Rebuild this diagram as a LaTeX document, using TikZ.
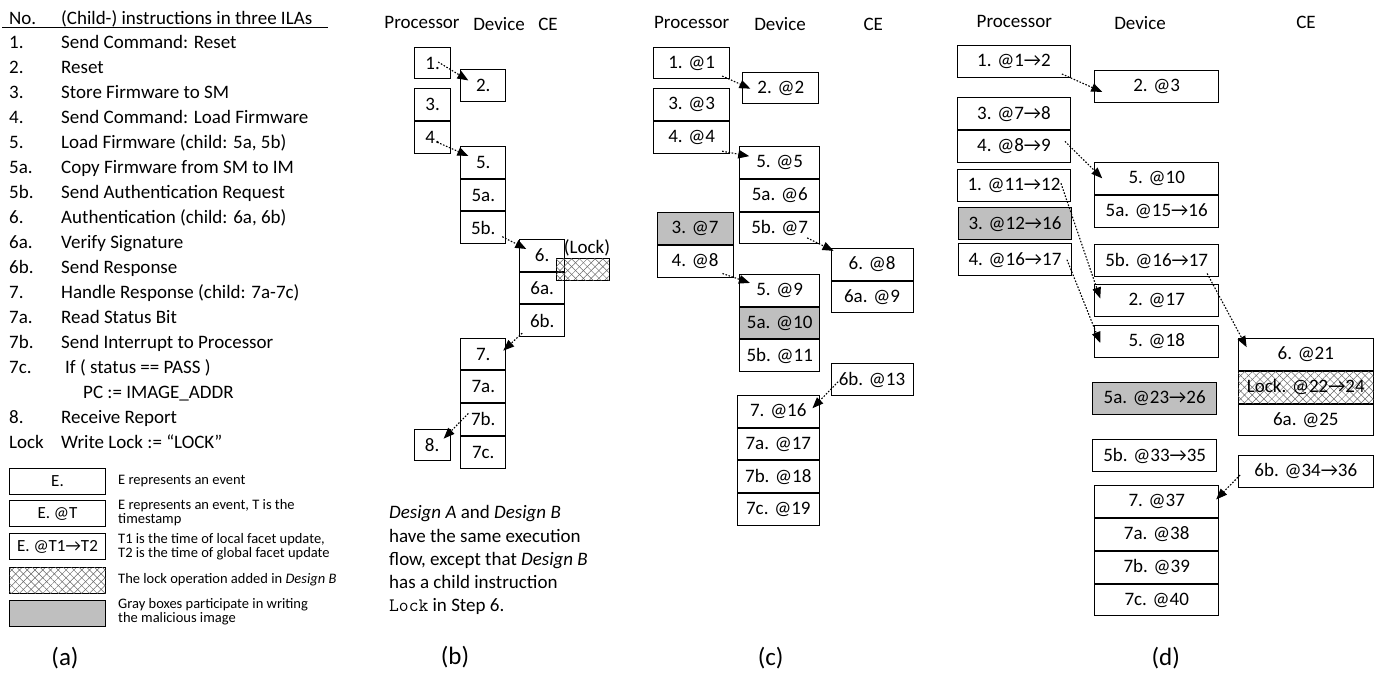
\documentclass[tikz,border=0pt]{standalone}
\usepackage{fontspec}
\setmainfont{Carlito}
\usetikzlibrary{positioning,calc,arrows.meta,patterns.meta}

\tikzset{
  evbox/.style={draw, line width=0.9pt, inner sep=0pt, minimum width=#1,
    minimum height=31.8pt, font=\fontsize{19}{23}\selectfont},
  graybox/.style={evbox=#1, fill=gray!50},
  lockbox/.style={evbox=#1,
    pattern={Lines[angle=45,distance=5.5pt,line width=0.5pt]}, pattern color=black!60,
    postaction={pattern={Lines[angle=-45,distance=5.5pt,line width=0.5pt]}, pattern color=black!60}},
  flow/.style={line width=1.1pt, dash pattern=on 1.6pt off 1.6pt, -{Triangle[length=11pt,width=8.5pt]}},
  lane/.style={anchor=base, font=\fontsize{19}{23}\selectfont},
  row/.style={anchor=base west, inner sep=0pt, font=\fontsize{19}{23}\selectfont},
  note/.style={anchor=west, align=left, inner sep=0pt, font=\fontsize{14.5}{14}\selectfont},
  tag/.style={font=\fontsize{25}{30}\selectfont},
}

\begin{document}
\begin{tikzpicture}[x=1pt, y=-1pt]
    \useasboundingbox (0,0) rectangle (1380,675);

    % (a) instruction table
    \node[row] (hno) at (9,24) {No.};
    \node[row] (hins) at (61,24) {(Child-) instructions in three ILAs};
    \draw[line width=0.9pt] (2,27) -- (328,27);
    \foreach \no/\txt [count=\i] in {1./Send Command: Reset, 2./Reset,
        3./Store Firmware to SM, 4./Send Command: Load Firmware,
        5./{Load Firmware (child: 5a, 5b)}, 5a./Copy Firmware from SM to IM,
        5b./Send Authentication Request, 6./{Authentication (child: 6a, 6b)},
        6a./Verify Signature, 6b./Send Response,
        7./Handle Response (child: 7a-7c), 7a./Read Status Bit,
        7b./Send Interrupt to Processor, 7c./{\hspace{4pt}If ( status == PASS )},
        {}/{\hspace{22pt}PC := IMAGE\_ADDR}, 8./Receive Report,
        Lock/Write Lock := “LOCK”} {
      \node[row] (no\i) at (9,{24+24.95*\i}) {\no};
      \node[row] (ins\i) at (61,{24+24.95*\i}) {\txt};
    }

    % (a) legend
    \node[evbox=96pt, minimum height=26pt, font=\fontsize{17}{20}\selectfont] (lg1) at (57.5,481) {E.};
    \node[evbox=96pt, minimum height=26pt, font=\fontsize{17}{20}\selectfont] (lg2) at (57.5,513.5) {E. @T};
    \node[evbox=96pt, minimum height=26pt, font=\fontsize{17}{20}\selectfont] (lg3) at (57.5,546.5) {E. @T1→T2};
    \node[lockbox=96pt, minimum height=26pt] (lg4) at (57.5,580) {};
    \node[graybox=96pt, minimum height=26pt] (lg5) at (57.5,613) {};
    \node[note] (lt1) at (118,481) {E represents an event};
    \node[note] (lt2) at (118,513) {E represents an event, T is the\\timestamp};
    \node[note] (lt3) at (118,546.5) {T1 is the time of local facet update,\\T2 is the time of global facet update};
    \node[note] (lt4) at (118,580) {The lock operation added in \textit{Design B}};
    \node[note] (lt5) at (118,612) {Gray boxes participate in writing\\the malicious image};

    % (b) Design A / Design B flow
    \node[lane] (bpro) at (422,28) {Processor};
    \node[lane] (bdev) at (499,30) {Device};
    \node[lane] (bce) at (548,30) {CE};
    \node[evbox=36pt] (b1) at (432.7,63) {1.};
    \node[evbox=45pt] (b2) at (483.3,85.8) {2.};
    \node[evbox=36pt] (b3) at (432.7,104.5) {3.};
    \node[evbox=36pt, below=0pt of b3] (b4) {4.};
    \node[evbox=45pt] (b5) at (483.3,162.3) {5.};
    \node[evbox=45pt, below=0pt of b5] (b5a) {5a.};
    \node[evbox=45pt, below=0pt of b5a] (b5b) {5b.};
    \node[evbox=45pt] (b6) at (542.2,255.3) {6.};
    \node[evbox=45pt, below=0pt of b6] (b6a) {6a.};
    \node[evbox=45pt, below=0pt of b6a] (b6b) {6b.};
    \node[lockbox=53pt, minimum height=21.5pt] (blk) at (582.5,269.5) {};
    \node[lane, anchor=center] (blktxt) at (587,248) {(Lock)};
    \node[evbox=45pt] (b7) at (483.3,354) {7.};
    \node[evbox=45pt, below=0pt of b7] (b7a) {7a.};
    \node[evbox=45pt, below=0pt of b7a] (b7b) {7b.};
    \node[evbox=45pt, below=0pt of b7b] (b7c) {7c.};
    \node[evbox=36pt] (b8) at (432.2,445) {8.};

    \draw[flow] ($(b1.east)+(-13,-1)$) -- ($(b2.north west)+(8,11)$);
    \draw[flow] ($(b4.east)+(-14,5)$) -- ($(b5.north west)+(8,10)$);
    \draw[flow] ($(b5b.east)+(-4,9)$) -- ($(b6.north west)+(7,10)$);
    \draw[flow] ($(b6b.south west)+(3,-4)$) -- ($(b7.north east)+(-3,13)$);
    \draw[flow] ($(b7b.west)+(8,-6)$) -- ($(b8.north east)+(-7,10)$);

    \node[anchor=north west, align=left, inner sep=0pt, font=\fontsize{19}{23.2}\selectfont] (bnote) at (389,505.5)
      {\textit{Design A} and \textit{Design B}\\have the same execution\\flow, except that \textit{Design B}\\has a child instruction\\\texttt{Lock} in Step 6.};

    % (c) timestamps
    \node[lane] (cpro) at (691.7,28) {Processor};
    \node[lane] (cdev) at (780,30) {Device};
    \node[lane] (cce) at (873.3,30) {CE};
    \node[evbox=76pt] (c1) at (691.7,63) {1. @1};
    \node[evbox=76pt] (c2) at (780.8,88) {2. @2};
    \node[evbox=76pt] (c3) at (691.7,104.5) {3. @3};
    \node[evbox=76pt, below=0pt of c3] (c4) {4. @4};
    \node[evbox=80pt] (c5) at (779.7,162.5) {5. @5};
    \node[evbox=80pt, below=0pt of c5] (c5a) {5a. @6};
    \node[evbox=80pt, below=0pt of c5a] (c5b) {5b. @7};
    \node[graybox=76pt] (c3x) at (695,228.8) {3. @7};
    \node[evbox=76pt, below=0pt of c3x] (c4x) {4. @8};
    \node[evbox=82pt] (c6) at (872,264.2) {6. @8};
    \node[evbox=82pt, below=0pt of c6] (c6a) {6a. @9};
    \node[evbox=80pt] (c5x) at (779.7,290.3) {5. @9};
    \node[graybox=80pt, below=0pt of c5x] (c5ax) {5a. @10};
    \node[evbox=80pt, below=0pt of c5ax] (c5bx) {5b. @11};
    \node[evbox=82pt] (c6b) at (872,379.7) {6b. @13};
    \node[evbox=82pt] (c7) at (778.3,411.3) {7. @16};
    \node[evbox=82pt, below=0pt of c7] (c7a) {7a. @17};
    \node[evbox=82pt, below=0pt of c7a] (c7b) {7b. @18};
    \node[evbox=82pt, below=0pt of c7b] (c7c) {7c. @19};

    \draw[flow] ($(c1.east)+(-8,13)$) -- ($(c2.north west)+(8,17)$);
    \draw[flow] ($(c4.east)+(-8,14)$) -- ($(c5.north west)+(10,10)$);
    \draw[flow] ($(c5b.east)+(-13,10)$) -- ($(c6.north west)+(3,3)$);
    \draw[flow] ($(c4x.east)+(-11,12)$) -- ($(c5x.north west)+(10.7,9)$);
    \draw[flow] ($(c6b.west)+(7.6,2)$) -- ($(c7.north east)+(-7.3,13.3)$);

    % (d) local -> global facet updates
    \node[lane] (dpro) at (1014.3,27.5) {Processor};
    \node[lane] (ddev) at (1140,29) {Device};
    \node[lane] (dce) at (1306,28) {CE};
    \node[evbox=113pt] (d1) at (1014,61.3) {1. @1→2};
    \node[evbox=124pt] (d2) at (1156.7,86.3) {2. @3};
    \node[evbox=113pt] (d3) at (1014,113.7) {3. @7→8};
    \node[evbox=113pt, below=0pt of d3] (d4) {4. @8→9};
    \node[evbox=113pt] (d1x) at (1014,185.3) {1. @11→12};
    \node[graybox=113pt] (d3x) at (1015,223.7) {3. @12→16};
    \node[evbox=113pt] (d4x) at (1015,259.7) {4. @16→17};
    \node[evbox=124pt] (d5) at (1156.7,178.7) {5. @10};
    \node[evbox=124pt, below=0pt of d5] (d5a) {5a. @15→16};
    \node[evbox=124pt] (d5b) at (1156.7,260.5) {5b. @16→17};
    \node[evbox=124pt] (d2x) at (1156.7,300.8) {2. @17};
    \node[evbox=124pt] (d5x) at (1156.7,341.3) {5. @18};
    \node[graybox=124pt] (d5ax) at (1154.7,398.5) {5a. @23→26};
    \node[evbox=124pt] (d5bx) at (1154.7,455.8) {5b. @33→35};
    \node[evbox=135.5pt] (d6) at (1305.8,354.5) {6. @21};
    \node[lockbox=135.5pt, below=0pt of d6] (d6l) {Lock. @22→24};
    \node[evbox=135.5pt, below=0pt of d6l] (d6a) {6a. @25};
    \node[evbox=135.5pt] (d6b) at (1305.8,471.3) {6b. @34→36};
    \node[evbox=124pt] (d7) at (1156.7,501.8) {7. @37};
    \node[evbox=124pt, below=0pt of d7] (d7a) {7a. @38};
    \node[evbox=124pt, below=0pt of d7a] (d7b) {7b. @39};
    \node[evbox=124pt, below=0pt of d7b] (d7c) {7c. @40};

    \draw[flow] ($(d1.east)+(-9,12.7)$) -- ($(d2.north west)+(8,22)$);
    \draw[flow] ($(d4.east)+(-6,-5)$) -- ($(d5.north west)+(8,16)$);
    \draw[flow] ($(d1x.east)+(-10,-2)$) -- ($(d2x.north west)+(6,14)$);
    \draw[flow] ($(d4x.east)+(-5,0)$) -- ($(d5x.north west)+(6,18)$);
    \draw[flow] ($(d5b.east)+(-12,13)$) -- ($(d6.north west)+(9,9)$);
    \draw[flow] ($(d6b.west)+(2.5,3.7)$) -- ($(d7.north east)+(-3,14)$);

    % panel tags
    \node[tag] (ta) at (65,658) {(a)};
    \node[tag] (tb) at (455,657) {(b)};
    \node[tag] (tc) at (770.7,658) {(c)};
    \node[tag] (td) at (1165.7,658) {(d)};
\end{tikzpicture}
\end{document}
